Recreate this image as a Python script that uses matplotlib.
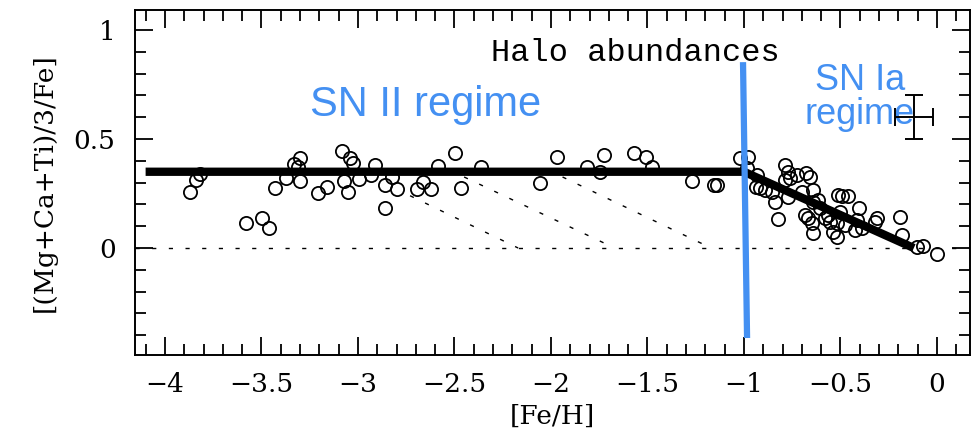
import matplotlib.pyplot as plt
from matplotlib.ticker import MultipleLocator, FuncFormatter

# halo stars: [Fe/H] and [(Mg+Ca+Ti)/3/Fe]
feh = [-3.870, -3.839, -3.819, -3.580, -3.497, -3.461, -3.430, -3.373, -3.332, -3.301,
       -3.311, -3.301, -3.207, -3.161, -3.083, -3.041, -3.026, -3.073, -3.052, -2.995,
       -2.933, -2.912, -2.860, -2.824, -2.798, -2.860, -2.694, -2.663, -2.622, -2.585,
       -2.497, -2.466, -2.363, -2.057, -1.969, -1.813, -1.746, -1.725, -1.570, -1.508,
       -1.477, -1.269, -1.155, -1.140,
       -1.021, -0.979, -0.984, -0.933, -0.938, -0.917, -0.891, -0.855, -0.839, -0.824,
       -0.788, -0.772, -0.762, -0.788, -0.725, -0.679, -0.658, -0.699, -0.642, -0.617,
       -0.772, -0.684, -0.668, -0.648, -0.642, -0.606, -0.580, -0.554, -0.539, -0.513,
       -0.518, -0.492, -0.461, -0.503, -0.518, -0.477, -0.425, -0.415, -0.404, -0.389,
       -0.321, -0.311, -0.192, -0.181, -0.104, -0.073, 0.000, -0.642, -0.565]
alpha = [0.257, 0.312, 0.339, 0.115, 0.138, 0.092, 0.275, 0.321, 0.385, 0.413,
         0.372, 0.307, 0.252, 0.280, 0.445, 0.413, 0.390, 0.307, 0.257, 0.317,
         0.335, 0.381, 0.289, 0.326, 0.271, 0.183, 0.271, 0.303, 0.271, 0.376,
         0.436, 0.275, 0.372, 0.298, 0.417, 0.372, 0.349, 0.427, 0.436, 0.417,
         0.372, 0.307, 0.289, 0.289,
         0.413, 0.417, 0.367, 0.335, 0.280, 0.275, 0.266, 0.257, 0.211, 0.133,
         0.381, 0.349, 0.321, 0.312, 0.335, 0.344, 0.326, 0.257, 0.266, 0.220,
         0.234, 0.151, 0.138, 0.115, 0.069, 0.183, 0.138, 0.119, 0.073, 0.243,
         0.050, 0.239, 0.239, 0.165, 0.115, 0.106, 0.083, 0.128, 0.183, 0.092,
         0.119, 0.138, 0.142, 0.060, 0.005, 0.009, -0.028, 0.211, 0.151]

# plateau + decline model
model_x = [-4.1, -1.0, -0.12]
model_y = [0.35, 0.35, 0.0]

# dotted dilution tracks (start, end)
tracks = [((-2.73, 0.24), (-2.17, 0.0)),
          ((-2.45, 0.326), (-1.67, 0.0)),
          ((-1.94, 0.326), (-1.17, 0.0))]

# SN Ia onset marker
knee_x = [-1.005, -0.984]
knee_y = [0.853, -0.413]

# typical error bar
err_x, err_y, err_dx, err_dy = -0.12, 0.6, 0.1, 0.1

blue = '#4490f2'
serif = ['DejaVu Serif']

fig = plt.figure(figsize=(9.74, 4.38), dpi=100)
ax = fig.add_axes([0.1386, 0.1895, 0.8573, 0.7875])

ax.axhline(0, color='black', lw=1.0, ls=(0, (3, 9)))
for (x0, y0), (x1, y1) in tracks:
    ax.plot([x0, x1], [y0, y1], color='black', lw=1.0, ls=(0, (3, 9)))

ax.plot(model_x, model_y, color='black', lw=6, solid_capstyle='butt', zorder=3)
ax.plot(feh, alpha, 'o', ms=9.5, mfc='none', mec='black', mew=1.3, zorder=4)
ax.plot(knee_x, knee_y, color=blue, lw=4.5, solid_capstyle='butt', zorder=5)

ax.errorbar(err_x, err_y, xerr=err_dx, yerr=err_dy, color='black', lw=1.4,
            capsize=6.5, capthick=1.4, zorder=6)

ax.text(-1.565, 0.895, 'Halo abundances', family='Liberation Mono', fontsize=23,
        ha='center', va='center')
ax.text(-2.648, 0.656, 'SN II regime', color=blue, fontsize=30,
        family='Liberation Sans', ha='center', va='center')
ax.text(-0.40, 0.69, 'SN Ia\nregime', color=blue, fontsize=26,
        family='Liberation Sans', ha='center', va='center', linespacing=0.95)

ax.set_xlim(-4.155, 0.171)
ax.set_ylim(-0.491, 1.092)

ax.xaxis.set_major_locator(MultipleLocator(0.5))
ax.xaxis.set_minor_locator(MultipleLocator(0.1))
ax.yaxis.set_major_locator(MultipleLocator(0.5))
ax.yaxis.set_minor_locator(MultipleLocator(0.1))
fmt = FuncFormatter(lambda v, p: ('%g' % round(v, 2)).replace('-', '\u2212'))
ax.xaxis.set_major_formatter(fmt)
ax.yaxis.set_major_formatter(fmt)

ax.tick_params(which='both', direction='in', top=True, right=True, width=1.3)
ax.tick_params(which='major', length=13)
ax.tick_params(which='minor', length=8)
ax.tick_params(axis='x', pad=12)
ax.tick_params(axis='y', pad=14)
for lab in ax.get_xticklabels() + ax.get_yticklabels():
    lab.set_family(serif)
    lab.set_fontsize(19)
for s in ax.spines.values():
    s.set_linewidth(1.4)

ax.set_xlabel('[Fe/H]', family=serif, fontsize=19, labelpad=5)
ax.set_ylabel('[(Mg+Ca+Ti)/3/Fe]', family=serif, fontsize=19, labelpad=12)

fig.savefig('out.png', dpi=100)
